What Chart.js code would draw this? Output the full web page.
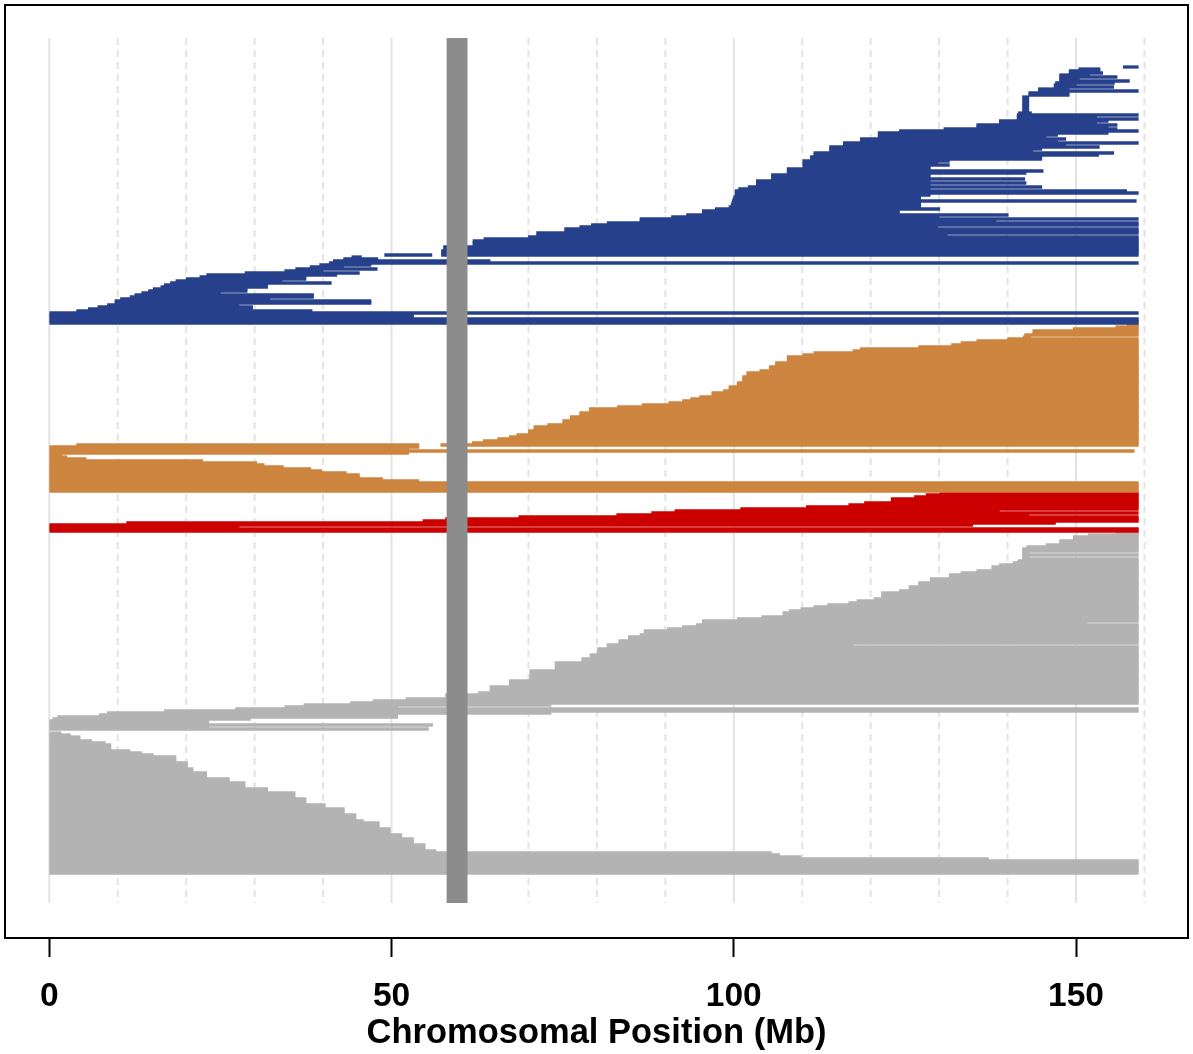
<!DOCTYPE html>
<html>
<head>
<meta charset="utf-8">
<script src="https://cdn.jsdelivr.net/npm/chart.js@4.4.1/dist/chart.umd.min.js"></script>
<style>
  html, body { margin: 0; padding: 0; background: #ffffff; }
  canvas { display: block; }
</style>
</head>
<body>
<canvas id="chart" width="1193" height="1054"></canvas>
<script>
// Chromosome 7 copy-number segments, one horizontal row per sample, listed top to bottom.
// run   = number of stacked sample rows carrying the same segment
//         (0 = drawn on the same row as the entry that follows it)
// start / end = segment bounds in Mb
const chromLength = 159.1;
const centromere = [58.05, 61.1];
const xTicks = [0, 50, 100, 150];
const gridMajor = [0, 50, 100, 150];
const gridMinor = [10, 20, 30, 40, 60, 70, 80, 90, 110, 120, 130, 140, 160];

// Gains (blue)
const blueRun = [1,1,1,1,1,1,1,1,1,1,1,1,1,1,1,8,1,1,1,1,1,1,1,1,1,1,1,1,1,1,1,1,1,1,1,1,1,1,1,1,1,1,1,1,1,1,1,2,1,1,1,1,1,1,1,1,1,1,1,1,1,1,1,1,2,1,1,1,1,1,1,1,2,1,1,1,1,3,2,2,0,1,1,1,1,1,1,1,1,1,1,1,1,1,1,1,1,1,1,1,1,1,1,1,2,1,1,1,1,1,2,3];
const blueStart = [156.9,150.4,149.0,149.0,147.6,147.6,147.6,147.6,147.0,146.8,146.8,144.5,144.5,143.1,143.1,142.2,141.6,141.4,141.4,141.4,138.8,138.8,135.5,135.5,130.7,124.2,121.1,121.1,121.1,118.5,118.5,116.0,116.0,114.0,114.0,114.0,111.7,111.7,111.2,111.2,110.1,110.1,110.1,110.1,107.8,107.8,107.8,105.5,105.5,103.3,103.3,103.3,102.1,100.7,100.2,100.2,100.2,100.0,99.9,99.8,99.7,99.6,99.3,97.3,95.4,93.1,90.9,86.3,86.3,81.5,79.2,77.5,75.3,71.2,71.2,70.0,63.5,61.9,57.6,57.3,49.0,57.3,44.2,43.0,41.5,40.9,39.5,38.1,36.0,34.4,28.6,23.0,22.0,20.0,18.5,17.7,16.8,16.3,15.2,14.5,13.5,12.5,11.8,10.4,9.6,8.5,7.1,5.7,4.0,0,0,0];
const blueEnd = [159.1,153.5,153.5,153.9,152.0,156.0,150.5,157.8,155.6,150.0,155.5,149.0,159.1,149.0,149.0,143.1,143.5,159.1,153.0,159.1,154.7,153.0,156.0,154.7,156.0,159.1,154.7,147.3,145.6,148.5,147.3,159.1,148.5,153.4,145.0,143.7,155.5,153.3,145.0,145.0,131.5,129.8,131.5,128.7,128.7,145.2,142.7,128.7,142.5,128.7,142.7,128.7,145.0,128.7,157.4,159.1,128.7,127.3,127.3,158.8,127.3,127.3,127.3,130.1,124.2,140.1,130.0,159.1,138.3,159.1,159.1,129.8,159.1,159.1,131.2,159.1,159.1,159.1,159.1,159.1,55.9,159.1,45.6,48.0,64.4,159.1,47.0,43.0,47.9,40.0,45.3,42.0,37.5,37.5,34.0,41.2,31.9,31.9,28.9,28.9,25.0,38.6,38.6,32.2,47.0,27.7,29.7,29.7,38.4,159.1,53.2,159.1];

// Gains (orange)
const orangeRun = [1,1,1,2,1,1,1,1,1,1,1,1,1,1,1,3,2,2,1,2,3,2,2,1,2,1,1,1,1,1,1,2,2,2,2,1,2,2,1,1,1,1,1,0,1,1,1,0,1,1,1,1,1,1,1,1,1,1,1,1,2,1,1,5];
const orangeStart = [157.5,155.8,149.6,143.7,142.5,142.3,140.0,135.5,133.2,131.8,127.0,118.5,117.4,111.7,110.1,107.8,106.1,105.2,103.8,101.9,101.3,100.5,99.3,98.5,96.8,95.0,93.7,92.5,90.5,86.6,83.0,78.9,77.5,76.1,75.0,72.8,70.8,70.0,68.3,67.2,65.5,63.4,61.8,4.0,57.2,0,0,0,42.0,0,0,0,0,0,0,0,0,0,0,0,0,0,0,0];
const orangeEnd = [159.1,159.1,159.1,159.1,159.1,143.4,159.1,159.1,159.1,159.1,159.1,159.1,159.1,159.1,159.1,159.1,159.1,159.1,159.1,159.1,159.1,159.1,159.1,159.1,159.1,159.1,159.1,159.1,159.1,159.1,159.1,159.1,159.1,159.1,159.1,159.1,159.1,159.1,159.1,159.1,159.1,159.1,159.1,54.0,159.1,54.0,52.5,52.5,158.5,52.5,1.8,2.6,5.4,22.4,30.3,31.4,34.2,38.2,39.8,43.4,45.3,48.7,54.0,159.1];

// Amplifications (red)
const redRun = [1,1,1,2,1,1,1,1,1,1,1,1,1,1,1,1,1,2];
const redStart = [130.1,128.1,126.4,123.0,119.1,116.8,110.6,101.0,91.4,88.0,82.9,68.6,57.9,54.6,11.3,0,0,0];
const redEnd = [159.1,159.1,159.1,159.1,159.1,159.1,159.1,159.1,138.8,159.1,143.1,159.1,159.1,159.1,147.0,134.9,27.7,159.1];

// Losses (grey, upper block)
const greyUpRun = [1,1,2,2,1,1,2,1,1,1,1,1,1,1,2,1,1,2,2,2,2,1,3,1,1,1,1,1,1,1,2,1,1,1,1,1,1,1,2,1,2,2,1,1,3,2,2,4,5,3,3,1,2,1,1,1,1,1,1,1,1,1,1,1,2,1,1,1];
const greyUpStart = [155.8,151.8,149.6,147.6,145.6,142.8,142.2,142.2,142.2,142.2,142.2,141.5,140.8,138.8,137.7,135.5,133.2,131.5,128.7,127.0,125.6,124.2,121.6,120.5,118.0,116.8,113.7,111.7,109.8,108.1,107.2,104.1,100.5,95.4,95.4,94.5,92.5,90.3,86.9,86.3,84.6,83.2,81.5,81.5,80.1,79.0,77.8,73.9,70.2,67.2,64.4,62.7,57.9,52.1,47.3,44.0,37.2,34.4,27.2,16.8,8.5,7.3,1.2,0.5,0,0,0,0];
const greyUpEnd = [159.1,159.1,159.1,159.1,159.1,159.1,159.1,143.2,159.1,143.2,159.1,159.1,159.1,159.1,159.1,159.1,159.1,159.1,159.1,159.1,159.1,159.1,159.1,159.1,159.1,159.1,159.1,159.1,159.1,159.1,159.1,159.1,159.1,159.1,151.6,159.1,159.1,159.1,159.1,159.1,159.1,159.1,117.4,159.1,159.1,159.1,159.1,159.1,159.1,159.1,159.1,159.1,159.1,159.1,159.1,159.1,73.3,50.9,159.1,159.1,73.3,50.9,50.9,29.4,23.3,56.0,23.3,55.4];

// Losses (grey, lower block, all starting at the p-telomere)
const greyLowRun = [1,1,2,1,1,3,1,1,1,3,3,2,3,2,3,2,3,3,2,3,3,1,3,3,2,3,3,1,1,1,1,1,7];
const greyLowStart = [0,0,0,0,0,0,0,0,0,0,0,0,0,0,0,0,0,0,0,0,0,0,0,0,0,0,0,0,0,0,0,0,0];
const greyLowEnd = [1.7,3.1,4.5,6.2,8.2,9.0,11.8,13.5,15.2,18.5,20.2,21.0,23.0,26.3,28.6,31.9,35.9,37.5,40.3,43.1,44.8,45.9,48.2,49.8,51.5,53.2,54.9,56.5,105.5,106.7,109.8,137.2,159.1];

// ---- layout of the sample rows ----
const firstRow = 14;          // rows left blank above the first sample
const bandTop = -0.5;         // extent of grid / centromere band in row units
const bandBottom = 432;
const FONT = "'Liberation Sans', Arial, Helvetica, sans-serif";

const groups = [
  { run: blueRun,    start: blueStart,    end: blueEnd,    color: '#27408B', gap: 0 },
  { run: orangeRun,  start: orangeStart,  end: orangeEnd,  color: '#CD853F', gap: 0 },
  { run: redRun,     start: redStart,     end: redEnd,     color: '#CD0000', gap: 0 },
  { run: greyUpRun,  start: greyUpStart,  end: greyUpEnd,  color: '#B3B3B3', gap: 0 },
  { run: greyLowRun, start: greyLowStart, end: greyLowEnd, color: '#B3B3B3', gap: 1 }
];

let row = firstRow;
const segmentSets = groups.map(g => {
  row += g.gap;
  const data = [];
  g.run.forEach((n, i) => {
    const seg = [g.start[i], g.end[i]];
    if (n === 0) { data.push({ y: row, x: seg }); return; }
    for (let k = 0; k < n; k++) data.push({ y: row + k, x: seg });
    row += n;
  });
  return {
    type: 'bar', indexAxis: 'y', data,
    backgroundColor: g.color, borderWidth: 0,
    barThickness: 2.6, grouped: false, order: 5
  };
});

const gridLine = (v, dashed) => ({
  type: 'line', indexAxis: 'y',
  data: [{ x: v, y: bandTop }, { x: v, y: bandBottom }],
  borderColor: '#E3E3E3', borderWidth: 2, borderDash: dashed ? [7, 5] : [],
  pointRadius: 0, fill: false, order: 10
});
const gridSets = gridMajor.map(v => gridLine(v, false)).concat(gridMinor.map(v => gridLine(v, true)));

const centroMid = (centromere[0] + centromere[1]) / 2;
const centromereSet = {
  type: 'line', indexAxis: 'y',
  data: [{ x: centroMid, y: bandTop }, { x: centroMid, y: bandBottom }],
  borderColor: '#8C8C8C', pointRadius: 0, fill: false, order: 0,
  borderCapStyle: 'butt',
  borderWidth: ctx => {
    const s = ctx.chart.scales.x;
    return s.getPixelForValue(centromere[1]) - s.getPixelForValue(centromere[0]);
  }
};

const frame = {
  id: 'frame',
  afterDraw(chart) {
    const { ctx, chartArea: a } = chart;
    ctx.save();
    ctx.strokeStyle = '#000';
    ctx.lineWidth = 2;
    ctx.strokeRect(a.left, a.top, a.right - a.left, a.bottom - a.top);
    ctx.restore();
  }
};

new Chart(document.getElementById('chart'), {
  type: 'bar',
  data: { datasets: [...gridSets, ...segmentSets, centromereSet] },
  options: {
    indexAxis: 'y',
    responsive: false,
    animation: false,
    devicePixelRatio: 1,
    events: [],
    layout: { padding: { left: 5, right: 5, top: 5, bottom: 0 } },
    plugins: { legend: { display: false }, tooltip: { enabled: false } },
    scales: {
      x: {
        type: 'linear', min: -6.47, max: 166.36, offset: false,
        afterBuildTicks: s => { s.ticks = xTicks.map(v => ({ value: v })); },
        afterFit: s => { s.height = 116; },
        grid: { display: true, drawOnChartArea: false, drawTicks: true, tickLength: 19, tickWidth: 2, tickColor: '#000', color: '#000' },
        border: { display: false },
        ticks: { color: '#000', font: { family: FONT, size: 33.5, weight: 'bold' }, padding: 20, maxRotation: 0, autoSkip: false },
        title: { display: true, text: 'Chromosomal Position (Mb)', color: '#000',
                 font: { family: FONT, size: 34.5, weight: 'bold' }, padding: { top: 0, bottom: 0 } }
      },
      y: {
        type: 'linear', display: false, reverse: true, offset: false,
        min: -17, max: 449.5
      }
    }
  },
  plugins: [frame]
});
</script>
</body>
</html>
